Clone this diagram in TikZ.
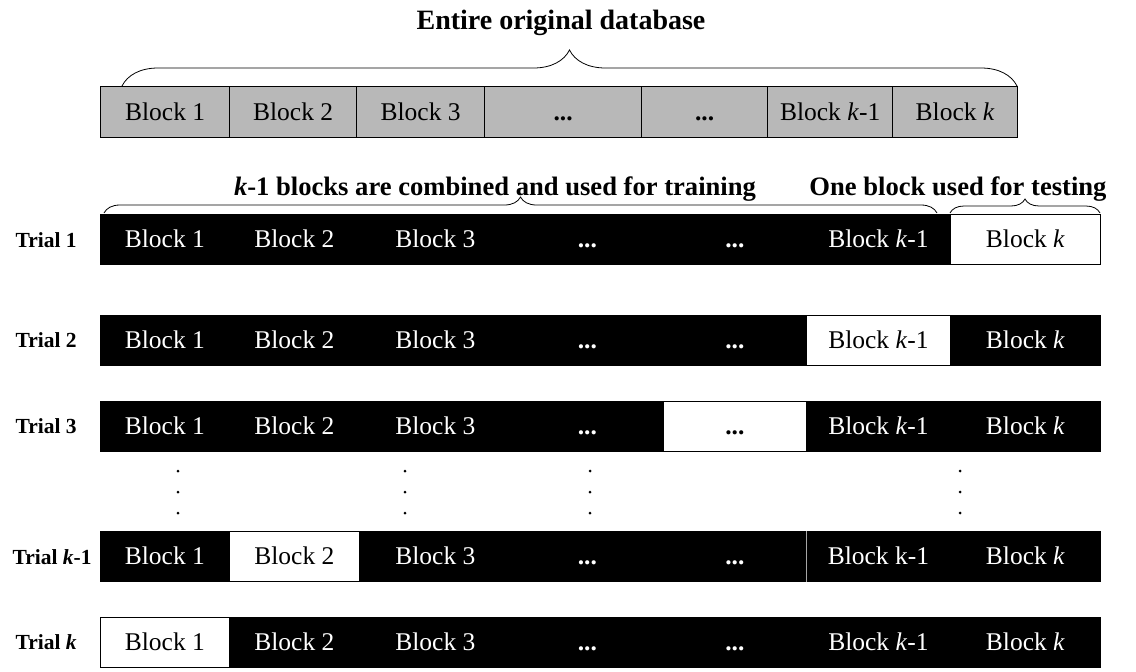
\documentclass[tikz,border=0pt]{standalone}
\usepackage{fontspec}
\setmainfont{Liberation Serif}
\usetikzlibrary{decorations.pathreplacing}
\newcommand\trialrow[4]{%
  \foreach \i/\xa/\xb/\t in {1/100/229/Block 1,2/229/359/Block 2,3/359/511/Block 3,4/511/663/\textbf{...},5/663/806/\textbf{...},6/806/950/{#4},7/950/1100/{Block \textit{k}}}{%
    \ifnum\i=#3 \def\fc{white}\def\tc{black}\else\def\fc{black}\def\tc{white}\fi
    \node[cell, minimum width={(\xb-\xa)*1pt}, draw=black, fill=\fc, text=\tc] (#1c\i) at (\xa,#2) {\t};
  }}
\begin{document}
\begin{tikzpicture}[x=1pt,y=-1pt,
  cell/.style={minimum height=50pt, inner sep=0pt, text height=19pt, text depth=3pt, anchor=north west, font=\fontsize{25.5}{28}\selectfont, line width=0.8pt},
  graycell/.style={cell, minimum height=51pt, draw=black, fill=black!28, line width=1.3pt},
  trial/.style={anchor=west, font=\fontsize{21.5}{24}\selectfont\bfseries},
  heading/.style={anchor=base, font=\fontsize{26.6}{30}\selectfont\bfseries},
  brc/.style={decorate, decoration={brace, amplitude=#1}, line width=0.8pt},
  vdot/.style={circle, fill=black, inner sep=0pt, minimum size=3pt}
]
\clip (0,0) rectangle (1136,672);
\useasboundingbox (0,0) rectangle (1136,672);

% title and top bar
\node[anchor=base, font=\fontsize{28}{32}\selectfont\bfseries] (title) at (561,29) {Entire original database};
\foreach \i/\xa/\xb/\t in {1/100/229/Block 1,2/229/356/Block 2,3/356/484/Block 3,4/484/641/\textbf{...},5/641/767/\textbf{...},6/767/892/{Block \textit{k}-1},7/892/1017/{Block \textit{k}}}{%
  \node[graycell, minimum width={(\xb-\xa)*1pt}] (g\i) at (\xa,86) {\t};
}
\coordinate (tbl) at (122,86);
\coordinate (tbr) at (1017,86);
\draw[brc=36] (tbl) -- (tbr);

% headings
\node[heading] (h1) at (495,195) {\textit{k}-1 blocks are combined and used for training};
\node[heading] (h2) at (958,195) {One block used for testing};
\coordinate (b2l) at (104,213);
\coordinate (b2r) at (937,213);
\coordinate (b3l) at (950,213);
\coordinate (b3r) at (1100,213);
\draw[brc=16] (b2l) -- (b2r);
\draw[brc=14] (b3l) -- (b3r);

% trial rows
\trialrow{ta}{214}{7}{Block \textit{k}-1}
\trialrow{tb}{315}{6}{Block \textit{k}-1}
\trialrow{tc}{401}{5}{Block \textit{k}-1}
\trialrow{td}{531}{2}{Block k-1}
\trialrow{te}{617}{1}{Block \textit{k}-1}
\draw[black!35, line width=0.6pt] (tdc6.north west) -- (tdc6.south west);

\node[trial] (la) at (12,240) {Trial 1};
\node[trial] (lb) at (12,340) {Trial 2};
\node[trial] (lc) at (12,426) {Trial 3};
\node[trial] (ld) at (9,557) {Trial \textit{k}-1};
\node[trial] (le) at (12,642) {Trial \textit{k}};

% vertical dots
\foreach \x [count=\j] in {178,405,590,960}{
  \foreach \y [count=\m] in {471,492,513}{
    \node[vdot] (d\j\m) at (\x,\y) {};
  }
}
\end{tikzpicture}
\end{document}
